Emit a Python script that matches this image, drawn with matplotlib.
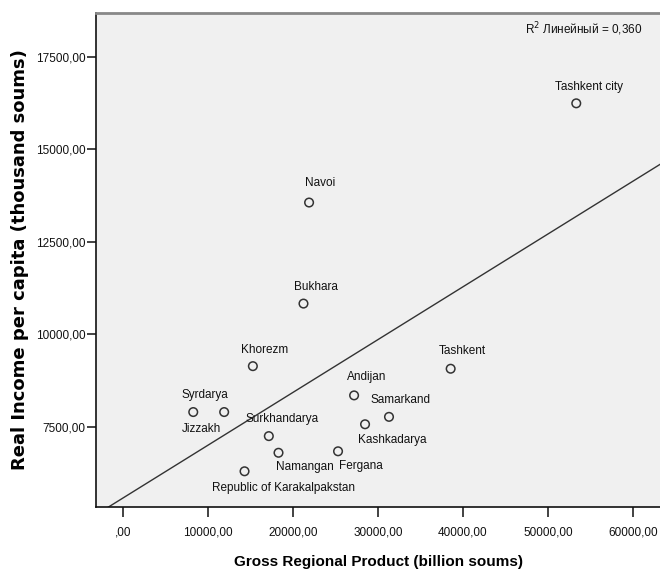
import numpy as np
import matplotlib
matplotlib.use("Agg")
import matplotlib.pyplot as plt
from matplotlib import font_manager as fm
from matplotlib.ticker import FuncFormatter

regions = ["Tashkent city", "Navoi", "Bukhara", "Khorezm", "Syrdarya", "Jizzakh",
           "Surkhandarya", "Namangan", "Republic of Karakalpakstan", "Andijan",
           "Samarkand", "Kashkadarya", "Fergana", "Tashkent"]
grp = [53340, 21880, 21220, 15260, 8240, 11880, 17140, 18280, 14280, 27180,
       31290, 28470, 25290, 38550]
income = [16240, 13560, 10830, 9140, 7900, 7900, 7250, 6800, 6300, 8350,
          7770, 7570, 6840, 9070]
# label offsets (pixels) relative to the point
label_dx = [13, 11, 12, 12, 12, -23, 13, 26, 39, 13, 12, 27, 23, 12]
label_dy = [16, 20, 17, 16, 17, -17, 17, -14, -17, 18, 17, -16, -15, 18]
xticks = [0, 10000, 20000, 30000, 40000, 50000, 60000]
yticks = [7500, 10000, 12500, 15000, 17500]
r2_text = "R$^2$ Линейный = 0,360"

avail = {f.name for f in fm.fontManager.ttflist}
narrow = [f for f in ["Liberation Sans Narrow", "DejaVu Sans Condensed", "Liberation Sans"] if f in avail] + ["DejaVu Sans"]
plt.rcParams['font.family'] = narrow

fig = plt.figure(figsize=(6.6, 5.74), dpi=100)
ax = fig.add_axes([96/660, 1-507/574, (660-96)/660, (507-13)/574])
ax.set_facecolor("#f0f0f0")
ax.set_xlim(-3210, 63200)
ax.set_ylim(5335, 18680)

ax.scatter(grp, income, s=38, facecolors="none", edgecolors="#333333", linewidths=1.1, zorder=3)

for name, x, y, dx, dy in zip(regions, grp, income, label_dx, label_dy):
    ax.annotate(name, (x, y), xytext=(dx, dy), textcoords="offset pixels",
                ha="center", va="center", fontsize=8.5, color="#111111")

# linear fit
k, b = np.polyfit(np.array(grp, float), np.array(income, float), 1)
xs = np.array(ax.get_xlim())
ax.plot(xs, k*xs + b, color="#333333", lw=1.0, zorder=2)
ax.set_xlim(-3210, 63200)

ax.text(0.968, 0.985, r2_text, transform=ax.transAxes, ha="right", va="top",
        fontsize=8.5, color="#111111")

ax.set_xticks(xticks)
ax.set_yticks(yticks)
fmt = FuncFormatter(lambda v, p: (",00" if v == 0 else f"{int(v)},00"))
ax.xaxis.set_major_formatter(fmt)
ax.yaxis.set_major_formatter(fmt)
ax.tick_params(axis="both", labelsize=8.5, width=1.2, color="#222222", labelcolor="#111111")
ax.tick_params(axis="x", length=7, pad=7)
ax.tick_params(axis="y", length=6.5, pad=1)

ax.spines["right"].set_visible(False)
ax.spines["top"].set_color("#888888")
ax.spines["top"].set_linewidth(2)
ax.spines["left"].set_color("#111111")
ax.spines["bottom"].set_color("#111111")
ax.spines["left"].set_linewidth(1.2)
ax.spines["bottom"].set_linewidth(1.2)

ax.set_xlabel("Gross Regional Product (billion soums)", fontsize=11, fontweight="bold", labelpad=12)
ax.set_ylabel("Real Income per capita (thousand soums)", fontsize=13, fontweight="bold",
              family="DejaVu Sans", labelpad=5)

fig.savefig("out.png", dpi=100)
